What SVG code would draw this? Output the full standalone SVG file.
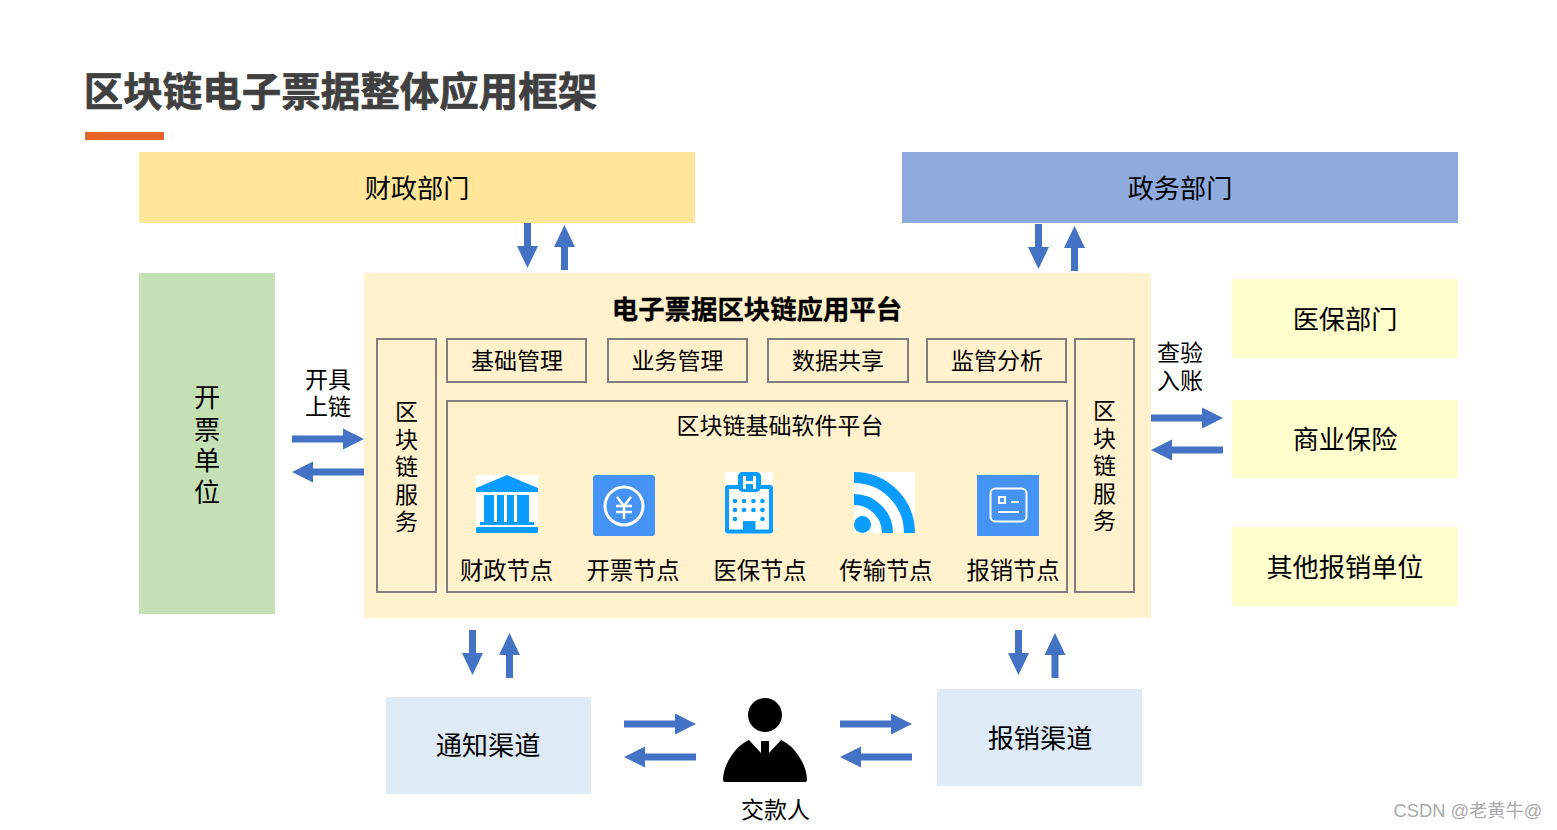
<svg xmlns="http://www.w3.org/2000/svg" width="1557" height="830" viewBox="0 0 1557 830">
<defs>
<style>
text{font-family:"Liberation Sans","Noto Sans CJK SC",sans-serif;fill:#000;text-anchor:middle}
.t26{font-size:26.200px}.t23{font-size:23px}.t24{font-size:23.300px}
.box{fill:none;stroke:#7f7f7f;stroke-width:2}
.a{fill:#4472c4}
.ic{fill:#0a9cff}
.ib{fill:#4594f5}
.w{fill:none;stroke:#fff}
</style>
<polygon id="ar" class="a" points="0,-3.5 51,-3.5 51,-10.5 72,0 51,10.5 51,3.5 0,3.5"/>
<polygon id="av" class="a" points="-3.500,0 3.500,0 3.500,23 10.500,23 0,45 -10.500,23 -3.500,23"/>
</defs>
<rect width="1557" height="830" fill="#fff"/>
<text x="340.500" y="106" style="font-size:39.500px;font-weight:700;fill:#404040;stroke:#404040;stroke-width:.7">区块链电子票据整体应用框架</text>
<rect x="85" y="132" width="79" height="8" fill="#e7632a"/>
<g id="node-finance"><rect x="139" y="152" width="556" height="71" fill="#ffe699"/><text class="t26" x="417" y="198">财政部门</text></g>
<g id="node-gov"><rect x="902" y="152" width="556" height="71" fill="#8faadc"/><text class="t26" x="1180" y="198">政务部门</text></g>
<g id="node-issuer"><rect x="139" y="273" width="136" height="341" fill="#c5e0b4"/>
<text class="t26" x="207" y="407">开</text><text class="t26" x="207" y="439">票</text><text class="t26" x="207" y="470">单</text><text class="t26" x="207" y="502">位</text></g>
<g id="node-platform"><rect x="364" y="273" width="787" height="345" fill="#fff2cc"/>
<text x="757" y="319" style="font-size:26.400px;font-weight:700;stroke:#000;stroke-width:.3">电子票据区块链应用平台</text></g>
<g id="node-svc-left"><rect class="box" x="377" y="339" width="59" height="253"/>
<text class="t23" x="406.500" y="420">区</text><text class="t23" x="406.500" y="448">块</text><text class="t23" x="406.500" y="475">链</text><text class="t23" x="406.500" y="503">服</text><text class="t23" x="406.500" y="530">务</text></g>
<g id="node-svc-right"><rect class="box" x="1075" y="339" width="59" height="253"/>
<text class="t23" x="1104.500" y="418.500">区</text><text class="t23" x="1104.500" y="446.500">块</text><text class="t23" x="1104.500" y="473.500">链</text><text class="t23" x="1104.500" y="501.500">服</text><text class="t23" x="1104.500" y="528.500">务</text></g>
<g id="node-m1"><rect class="box" x="447" y="339" width="139" height="43"/><text class="t23" x="517" y="369">基础管理</text></g>
<g id="node-m2"><rect class="box" x="608" y="339" width="139" height="43"/><text class="t23" x="677.500" y="369">业务管理</text></g>
<g id="node-m3"><rect class="box" x="768" y="339" width="140" height="43"/><text class="t23" x="838" y="369">数据共享</text></g>
<g id="node-m4"><rect class="box" x="927" y="339" width="139" height="43"/><text class="t23" x="997" y="369">监管分析</text></g>
<g id="node-base"><rect class="box" x="447" y="401" width="620" height="191"/><text class="t23" x="780" y="433.500">区块链基础软件平台</text></g>
<g id="node-n1">
<rect x="476" y="475" width="62" height="58" fill="#fff"/>
<polygon class="ic" points="507,475 538,488 538,492 476,492 476,488"/>
<rect class="ic" x="484" y="495" width="10" height="27"/><rect class="ic" x="497" y="495" width="7" height="27"/><rect class="ic" x="507" y="495" width="7" height="27"/><rect class="ic" x="517" y="495" width="12" height="27"/>
<rect class="ic" x="480" y="522" width="54" height="3"/><rect class="ic" x="476" y="527" width="62" height="6" rx="1"/>
<text class="t24" x="506.500" y="579">财政节点</text></g>
<g id="node-n2">
<rect class="ib" x="593" y="475" width="62" height="61" rx="3"/>
<circle class="w" cx="624" cy="506" r="19" stroke-width="3"/>
<path class="w" stroke-width="2.500" d="M617,497 L624,506 L631,497 M616,506 H632 M616,512 H632 M624,506 V519"/>
<text class="t24" x="633" y="579">开票节点</text></g>
<g id="node-n3">
<rect x="725" y="472" width="48" height="62" fill="#fff"/>
<rect class="ic" x="725" y="485" width="48" height="48.500" rx="3"/>
<rect class="ic" x="738" y="472" width="23" height="24" rx="5"/>
<rect x="729" y="489" width="40" height="40.500" fill="#fff"/>
<rect class="ic" x="738" y="472" width="23" height="20" rx="5"/>
<path fill="#fff" d="M743,476 h3 v5 h7 v-5 h3 v13 h-3 v-5 h-7 v5 h-3 z"/>
<g class="ic"><circle cx="735" cy="501" r="2.300"/><circle cx="744" cy="501" r="2.300"/><circle cx="753.500" cy="501" r="2.300"/><circle cx="762.500" cy="501" r="2.300"/><circle cx="735" cy="510" r="2.300"/><circle cx="744" cy="510" r="2.300"/><circle cx="753.500" cy="510" r="2.300"/><circle cx="762.500" cy="510" r="2.300"/><circle cx="735" cy="519" r="2.300"/><circle cx="762.500" cy="519" r="2.300"/></g>
<rect class="ic" x="743" y="521" width="12.500" height="12"/>
<text class="t24" x="760" y="579">医保节点</text></g>
<g id="node-n4">
<rect x="854" y="472" width="61" height="61" fill="#fff"/>
<circle class="ic" cx="862.500" cy="524.500" r="8.500"/>
<path fill="none" stroke="#0a9cff" stroke-width="11" d="M854,499.500 A33.500,33.500 0 0 1 887.500,533"/>
<path fill="none" stroke="#0a9cff" stroke-width="11" d="M854,477.500 A55.500,55.500 0 0 1 909.500,533"/>
<text class="t24" x="886" y="579">传输节点</text></g>
<g id="node-n5">
<rect class="ib" x="977" y="475" width="62" height="61"/>
<rect class="w" x="990.500" y="488.500" width="36" height="33" rx="5" stroke-width="2"/>
<rect class="w" x="999" y="497" width="6" height="6" stroke-width="2"/>
<path class="w" stroke-width="2" d="M1011,502 H1019 M998,512 H1019"/>
<text class="t24" x="1013" y="579">报销节点</text></g>
<g id="node-r1"><rect x="1232" y="279" width="226" height="79" fill="#ffffcd"/><text class="t26" x="1345" y="329">医保部门</text></g>
<g id="node-r2"><rect x="1232" y="400" width="226" height="78" fill="#ffffcd"/><text class="t26" x="1345" y="449">商业保险</text></g>
<g id="node-r3"><rect x="1232" y="527" width="226" height="79" fill="#ffffcd"/><text class="t26" x="1345" y="577">其他报销单位</text></g>
<g id="node-notify"><rect x="386" y="697" width="205" height="97" fill="#deebf7"/><text class="t26" x="488" y="755">通知渠道</text></g>
<g id="node-reimb"><rect x="937" y="689" width="205" height="97" fill="#deebf7"/><text class="t26" x="1040" y="748">报销渠道</text></g>
<g id="node-payer">
<circle cx="765" cy="715" r="17"/>
<path d="M749,740 L761,753 V741 H769 V753 L781,740 C795,746 807,765 807,780 Q807,782 804,782 H726 Q723,782 723,780 C723,765 735,746 749,740 Z"/>
<text class="t23" x="775.500" y="818">交款人</text></g>
<g id="labels">
<text class="t23" x="328" y="388">开具</text><text class="t23" x="328" y="415">上链</text>
<text class="t23" x="1180" y="361">查验</text><text class="t23" x="1180" y="389">入账</text>
</g>
<g id="connectors">
<use href="#ar" transform="translate(292,439)"/>
<use href="#ar" transform="translate(364,472) rotate(180)"/>
<use href="#ar" transform="translate(1151,418)"/>
<use href="#ar" transform="translate(1223,450) rotate(180)"/>
<use href="#ar" transform="translate(624,724)"/>
<use href="#ar" transform="translate(696,757) rotate(180)"/>
<use href="#ar" transform="translate(840,724)"/>
<use href="#ar" transform="translate(912,757) rotate(180)"/>
<use href="#av" transform="translate(527.500,223)"/>
<use href="#av" transform="translate(564.500,270) rotate(180)"/>
<use href="#av" transform="translate(1038.500,224)"/>
<use href="#av" transform="translate(1074.500,271) rotate(180)"/>
<use href="#av" transform="translate(472.500,630)"/>
<use href="#av" transform="translate(509.500,678) rotate(180)"/>
<use href="#av" transform="translate(1018.500,630)"/>
<use href="#av" transform="translate(1055,678) rotate(180)"/>
</g>
<text x="1468" y="817" style="font-size:18.300px;fill:#aaa">CSDN @老黄牛@</text>
</svg>
